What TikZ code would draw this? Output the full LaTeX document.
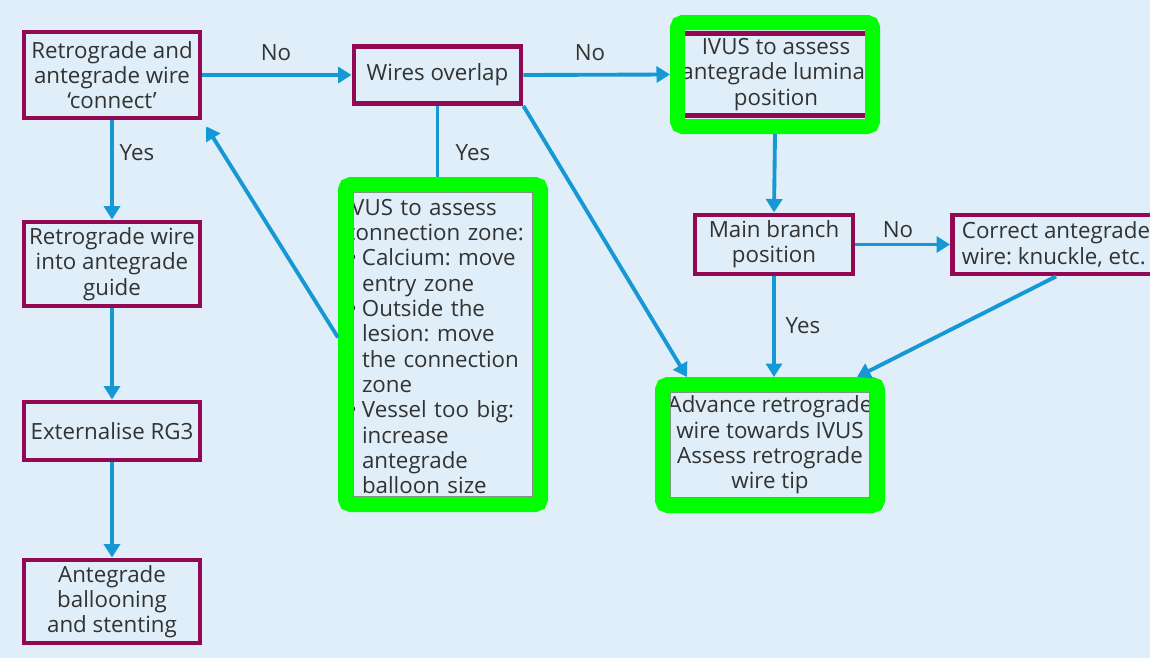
\documentclass[tikz,border=0pt]{standalone}
\usepackage{fontspec}
\setmainfont{Open Sans}
\usepackage{xcolor}
\usepackage{tikz}
\usetikzlibrary{calc,positioning,arrows.meta}
\definecolor{pagebg}{RGB}{223,238,248}
\definecolor{plum}{RGB}{146,8,82}
\definecolor{wireblue}{RGB}{22,152,212}
\definecolor{hilite}{RGB}{0,255,0}
\definecolor{inkgray}{RGB}{50,50,50}
\newcommand{\bul}{\makebox[0.34cm][l]{\hspace{0.07cm}\textbullet}}
\newcommand{\hng}{\hspace*{0.34cm}}
\frenchspacing

\begin{document}
\begin{tikzpicture}[
      font=\fontsize{12.7}{14.4}\selectfont,
      stepbox/.style={draw=plum, line width=2.8pt, fill=pagebg, align=center,
        text=inkgray, inner sep=2pt},
      markfill/.style={fill=pagebg, text=inkgray, inner sep=0pt},
      markbox/.style={draw=hilite, line width=0.3cm, rounded corners=3pt},
      shade/.style={draw=black!45, line width=0.9pt},
      flow/.style={-{Triangle[length=2.7mm, width=3.2mm]}, line width=2.2pt, wireblue},
      link/.style={line width=2.2pt, wireblue},
      blabel/.style={text=inkgray},
    ]
    \clip (0,0) rectangle (23,-13.16);
    \fill[pagebg] (0,0) rectangle (23,-13.16);

    % left column
    \node[stepbox, minimum width=3.52cm, minimum height=1.72cm] (connect) at (2.24,-1.5)
      {Retrograde and\\antegrade wire\\‘connect’};
    \node[stepbox, minimum width=3.52cm, minimum height=1.68cm] (guide) at (2.24,-5.28)
      {Retrograde wire\\into antegrade\\guide};
    \node[stepbox, minimum width=3.52cm, minimum height=1.16cm] (extern) at (2.24,-8.62)
      {Externalise RG3};
    \node[stepbox, minimum width=3.52cm, minimum height=1.66cm] (stent) at (2.24,-12.03)
      {Antegrade\\ballooning\\and stenting};

    \node[stepbox, minimum width=3.34cm, minimum height=1.14cm] (overlap) at (8.75,-1.5)
      {Wires overlap};

    % highlighted steps
    \node[stepbox, minimum width=3.9cm, minimum height=1.64cm] (ivuslum) at (15.52,-1.49)
      {IVUS to assess\\antegrade luminal\\position};
    \draw[shade] ($(ivuslum.north west)+(0.14,0.05)$) rectangle ($(ivuslum.south east)+(-0.18,-0.05)$);
    \node[markbox, minimum width=3.9cm, minimum height=2.08cm] (ivuslumhl) at (15.5,-1.49) {};

    \coordinate (zonec) at (8.86,-6.89);
    \node[markfill, text width=3.92cm, align=left] (zone) at ([yshift=-0.04cm]zonec)
      {IVUS to assess\\connection zone:\\
       \bul Calcium: move\\\hng entry zone\\
       \bul Outside the\\\hng lesion: move\\\hng the connection\\\hng zone\\
       \bul Vessel too big:\\\hng increase\\\hng antegrade\\\hng balloon size};
    \draw[shade] ($(zonec)+(-1.79,3.04)$) rectangle ($(zonec)+(1.79,-3.04)$);
    \node[markbox, minimum width=3.9cm, minimum height=6.4cm] (zonehl) at (zonec) {};

    \node[markfill, minimum width=4.3cm, minimum height=2.42cm, align=center] (advance) at (15.4,-8.9)
      {Advance retrograde\\wire towards IVUS\\Assess retrograde\\wire tip};
    \draw[shade] ($(advance.north west)+(0.16,-0.16)$) rectangle ($(advance.south east)+(-0.16,0.16)$);
    \node[markbox, minimum width=4.3cm, minimum height=2.42cm] (advancehl) at (advance) {};

    \node[stepbox, minimum width=3.16cm, minimum height=1.18cm] (mainbr) at (15.48,-4.89)
      {Main branch\\position};
    \node[stepbox, minimum width=4.14cm, minimum height=1.18cm, align=left] (correct) at (21.12,-4.89)
      {Correct antegrade\\wire: knuckle, etc.};

    % connectors
    \draw[flow] (connect.east) -- (overlap.west);
    \draw[flow] (overlap.east) -- (ivuslumhl.west);
    \draw[flow] (connect.south) -- (guide.north);
    \draw[flow] (guide.south) -- (extern.north);
    \draw[flow] (extern.south) -- (stent.north);
    \draw[link] (overlap.south) -- (overlap.south |- zonehl.north);
    \draw[flow, shorten >=0.14cm] ([yshift=0.14cm]zonehl.west) -- (connect.south east);
    \draw[flow] (overlap.south east) -- ($(advancehl.north west)+(0.64,0)$);
    \draw[flow] (ivuslumhl.south) -- (mainbr.north);
    \draw[flow] (mainbr.east) -- (correct.west);
    \draw[flow] (mainbr.south) -- (mainbr.south |- advancehl.north);
    \draw[flow] (correct.south) -- ($(advancehl.north east)+(-0.56,0)$);

    \node[blabel] (no1) at (5.52,-1.06) {No};
    \node[blabel] (no2) at (11.8,-1.06) {No};
    \node[blabel] (yes1) at (2.74,-3.06) {Yes};
    \node[blabel] (yes2) at (9.46,-3.06) {Yes};
    \node[blabel] (no3) at (17.96,-4.6) {No};
    \node[blabel] (yes3) at (16.06,-6.52) {Yes};
  \end{tikzpicture}
\end{document}
